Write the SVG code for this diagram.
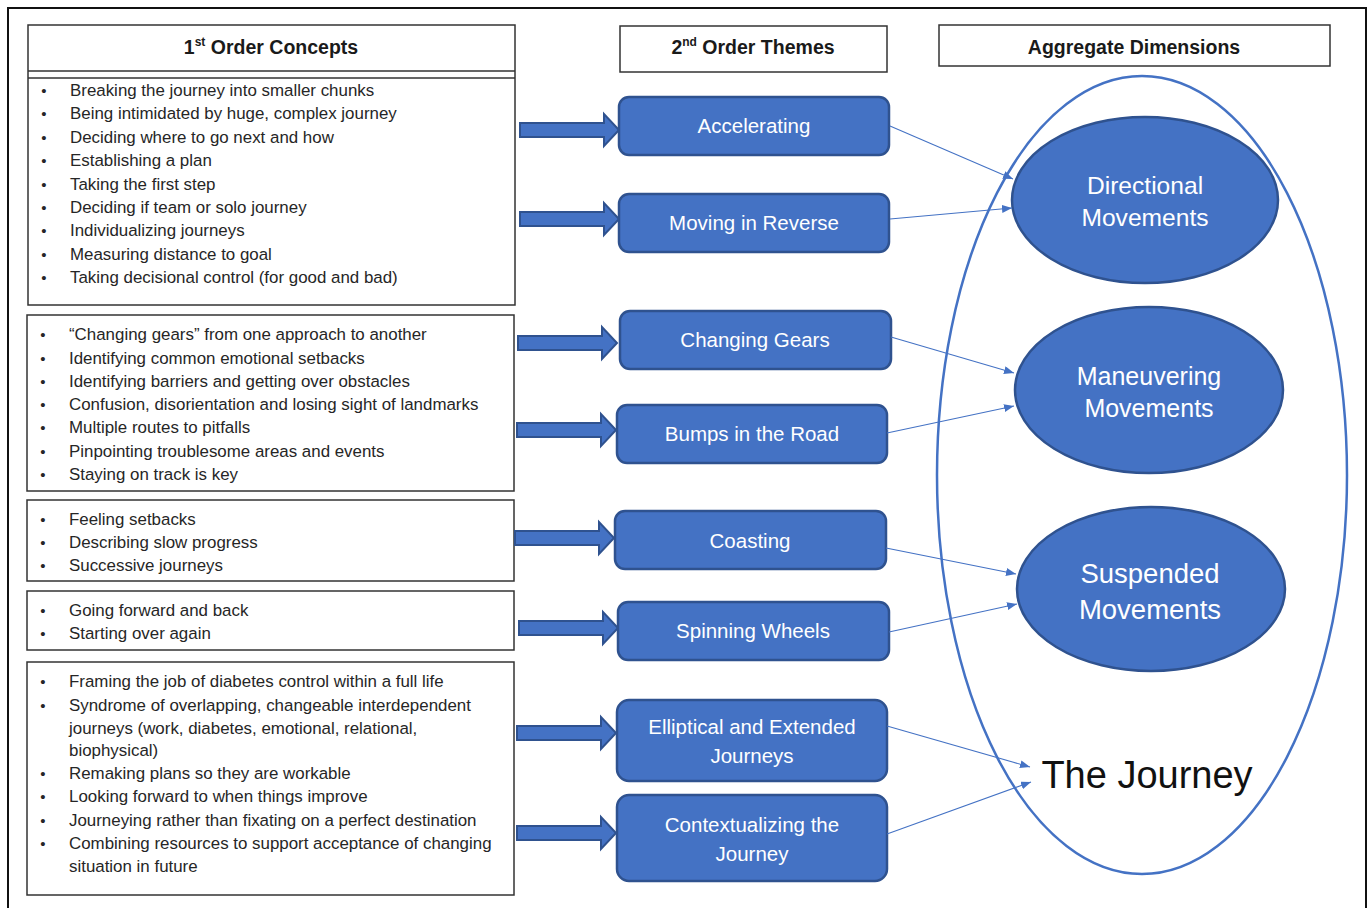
<svg xmlns="http://www.w3.org/2000/svg" width="1367" height="908" viewBox="0 0 1367 908">
<style>
.frame{fill:none;stroke:#111;stroke-width:2}
.box{fill:#fff;stroke:#333;stroke-width:1.5}
.hd{font-family:"Liberation Sans",Arial,sans-serif;font-weight:bold;font-size:19.5px;fill:#1a1a1a;text-anchor:middle}
.li{font-family:"Liberation Sans",Arial,sans-serif;font-size:16.9px;fill:#262626}
.bu{font-family:"Liberation Sans",Arial,sans-serif;font-size:15px;fill:#262626;text-anchor:middle}
.theme rect{fill:#4472C4;stroke:#2F528F;stroke-width:2.5}
.theme text{font-family:"Liberation Sans",Arial,sans-serif;font-size:20.5px;fill:#fff;text-anchor:middle}
.dim ellipse{fill:#4472C4;stroke:#2F528F;stroke-width:2.5}
.dim text{font-family:"Liberation Sans",Arial,sans-serif;fill:#fff;text-anchor:middle}
.blk{fill:#4472C4;stroke:#2F528F;stroke-width:2}
.con{stroke:#4472C4;stroke-width:1.1;fill:none;marker-end:url(#ah)}
</style>
<defs>
<marker id="ah" viewBox="0 0 10 8" refX="10" refY="4" markerWidth="10" markerHeight="8" markerUnits="userSpaceOnUse" orient="auto">
<path d="M0,0 L10,4 L0,8 Z" fill="#4472C4"/>
</marker>
<path id="fat" class="blk" d="M0,-7 H84 V-16 L99,0 L84,16 V7 H0 Z"/>
</defs>
<rect width="1367" height="908" fill="#fff"/>
<rect class="frame" x="8" y="8" width="1358" height="920"/>

<g id="headers">
<rect class="box" x="28" y="25" width="487" height="280"/>
<line x1="28" y1="71" x2="515" y2="71" stroke="#333" stroke-width="1.5"/>
<line x1="28" y1="78" x2="515" y2="78" stroke="#333" stroke-width="1.5"/>
<text class="hd" x="271" y="54">1<tspan font-size="12" dy="-8">st</tspan><tspan dy="8"> Order Concepts</tspan></text>
<rect class="box" x="620" y="26" width="267" height="46"/>
<text class="hd" x="753" y="54">2<tspan font-size="12" dy="-8">nd</tspan><tspan dy="8"> Order Themes</tspan></text>
<rect class="box" x="939" y="25" width="391" height="41"/>
<text class="hd" x="1134" y="54">Aggregate Dimensions</text>
</g>

<g id="concepts1">
<g class="bu"><text x="44" y="96">•</text><text x="44" y="119">•</text><text x="44" y="143">•</text><text x="44" y="166">•</text><text x="44" y="190">•</text><text x="44" y="213">•</text><text x="44" y="236">•</text><text x="44" y="260">•</text><text x="44" y="283">•</text></g>
<g class="li">
<text x="70" y="96">Breaking the journey into smaller chunks</text>
<text x="70" y="119">Being intimidated by huge, complex journey</text>
<text x="70" y="143">Deciding where to go next and how</text>
<text x="70" y="166">Establishing a plan</text>
<text x="70" y="190">Taking the first step</text>
<text x="70" y="213">Deciding if team or solo journey</text>
<text x="70" y="236">Individualizing journeys</text>
<text x="70" y="260">Measuring distance to goal</text>
<text x="70" y="283">Taking decisional control (for good and bad)</text>
</g>
</g>

<g id="concepts2">
<rect class="box" x="27" y="315" width="487" height="176"/>
<g class="bu"><text x="43" y="340">•</text><text x="43" y="364">•</text><text x="43" y="387">•</text><text x="43" y="410">•</text><text x="43" y="433">•</text><text x="43" y="457">•</text><text x="43" y="480">•</text></g>
<g class="li">
<text x="69" y="340">“Changing gears” from one approach to another</text>
<text x="69" y="364">Identifying common emotional setbacks</text>
<text x="69" y="387">Identifying barriers and getting over obstacles</text>
<text x="69" y="410">Confusion, disorientation and losing sight of landmarks</text>
<text x="69" y="433">Multiple routes to pitfalls</text>
<text x="69" y="457">Pinpointing troublesome areas and events</text>
<text x="69" y="480">Staying on track is key</text>
</g>
</g>

<g id="concepts3">
<rect class="box" x="27" y="500" width="487" height="81"/>
<g class="bu"><text x="43" y="525">•</text><text x="43" y="548">•</text><text x="43" y="571">•</text></g>
<g class="li">
<text x="69" y="525">Feeling setbacks</text>
<text x="69" y="548">Describing slow progress</text>
<text x="69" y="571">Successive journeys</text>
</g>
</g>

<g id="concepts4">
<rect class="box" x="27" y="591" width="487" height="59"/>
<g class="bu"><text x="43" y="616">•</text><text x="43" y="639">•</text></g>
<g class="li">
<text x="69" y="616">Going forward and back</text>
<text x="69" y="639">Starting over again</text>
</g>
</g>

<g id="concepts5">
<rect class="box" x="27" y="662" width="487" height="233"/>
<g class="bu"><text x="43" y="687">•</text><text x="43" y="711">•</text><text x="43" y="779">•</text><text x="43" y="802">•</text><text x="43" y="826">•</text><text x="43" y="849">•</text></g>
<g class="li">
<text x="69" y="687">Framing the job of diabetes control within a full life</text>
<text x="69" y="711">Syndrome of overlapping, changeable interdependent</text>
<text x="69" y="734">journeys (work, diabetes, emotional, relational,</text>
<text x="69" y="756">biophysical)</text>
<text x="69" y="779">Remaking plans so they are workable</text>
<text x="69" y="802">Looking forward to when things improve</text>
<text x="69" y="826">Journeying rather than fixating on a perfect destination</text>
<text x="69" y="849">Combining resources to support acceptance of changing</text>
<text x="69" y="872">situation in future</text>
</g>
</g>

<g id="block-arrows">
<use href="#fat" x="520" y="130"/>
<use href="#fat" x="520" y="219"/>
<use href="#fat" x="518" y="343"/>
<use href="#fat" x="517" y="430"/>
<use href="#fat" x="515" y="538"/>
<use href="#fat" x="519" y="628"/>
<use href="#fat" x="517" y="733"/>
<use href="#fat" x="517" y="833"/>
</g>

<g id="t-accelerating" class="theme"><rect x="619" y="97" width="270" height="58" rx="10"/><text x="754" y="133">Accelerating</text></g>
<g id="t-reverse" class="theme"><rect x="619" y="194" width="270" height="58" rx="10"/><text x="754" y="230">Moving in Reverse</text></g>
<g id="t-gears" class="theme"><rect x="620" y="311" width="271" height="58" rx="10"/><text x="755" y="347">Changing Gears</text></g>
<g id="t-bumps" class="theme"><rect x="617" y="405" width="270" height="58" rx="10"/><text x="752" y="441">Bumps in the Road</text></g>
<g id="t-coasting" class="theme"><rect x="615" y="511" width="271" height="58" rx="10"/><text x="750" y="548">Coasting</text></g>
<g id="t-spinning" class="theme"><rect x="618" y="602" width="271" height="58" rx="10"/><text x="753" y="638">Spinning Wheels</text></g>
<g id="t-elliptical" class="theme"><rect x="617" y="700" width="270" height="81" rx="12"/><text x="752" y="734">Elliptical and Extended</text><text x="752" y="763">Journeys</text></g>
<g id="t-context" class="theme"><rect x="617" y="795" width="270" height="86" rx="12"/><text x="752" y="832">Contextualizing the</text><text x="752" y="861">Journey</text></g>

<g id="journey">
<ellipse cx="1142" cy="475" rx="205" ry="399" fill="none" stroke="#4472C4" stroke-width="2.5"/>
<text x="1147" y="788" font-family="'Liberation Sans',Arial,sans-serif" font-size="38" fill="#111" text-anchor="middle">The Journey</text>
</g>

<g id="d-directional" class="dim"><ellipse cx="1145" cy="200" rx="133" ry="83"/><text font-size="24.6" x="1145" y="194">Directional</text><text font-size="24.6" x="1145" y="226">Movements</text></g>
<g id="d-maneuvering" class="dim"><ellipse cx="1149" cy="390" rx="134" ry="83"/><text font-size="25" x="1149" y="385">Maneuvering</text><text font-size="25" x="1149" y="417">Movements</text></g>
<g id="d-suspended" class="dim"><ellipse cx="1151" cy="589" rx="134" ry="82"/><text font-size="27.5" x="1150" y="583">Suspended</text><text font-size="27.5" x="1150" y="619">Movements</text></g>

<g id="connectors">
<line class="con" x1="890" y1="126" x2="1013" y2="179"/>
<line class="con" x1="890" y1="219" x2="1012" y2="208"/>
<line class="con" x1="891" y1="337" x2="1014" y2="373"/>
<line class="con" x1="887" y1="433" x2="1014" y2="406"/>
<line class="con" x1="886" y1="548" x2="1016" y2="574"/>
<line class="con" x1="889" y1="632" x2="1017" y2="604"/>
<line class="con" x1="887" y1="726" x2="1030" y2="767"/>
<line class="con" x1="887" y1="834" x2="1031" y2="782"/>
</g>
</svg>
